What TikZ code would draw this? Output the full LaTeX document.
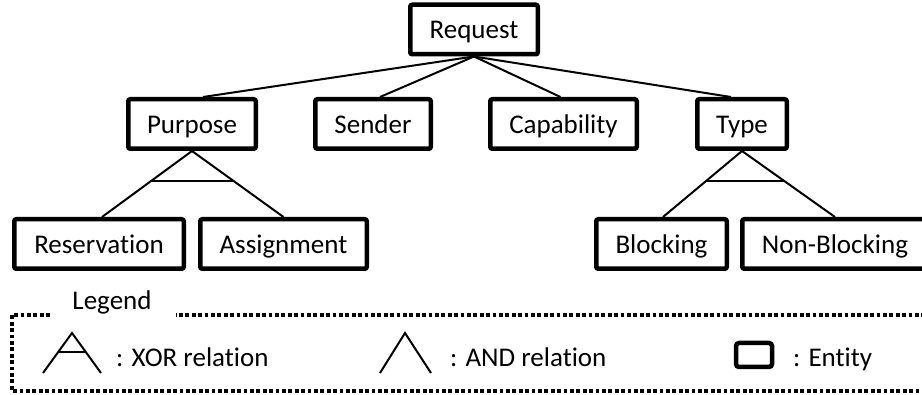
\documentclass[tikz,border=0pt]{standalone}
\usepackage{fontspec}
\setmainfont[Ligatures={NoCommon}]{Carlito}
\usetikzlibrary{calc}
\tikzset{
  entity/.style={draw, line width=4.5pt, rounded corners=2pt, minimum height=49.5pt, inner sep=0pt, text height=21pt, text depth=2pt, font=\fontsize{27}{31}\selectfont},
  conn/.style={line width=2pt},
  thin bar/.style={line width=2pt},
  legendline/.style={line width=4.5pt, dash pattern=on 3.8pt off 2.6pt},
  lbl/.style={font=\fontsize{27}{31}\selectfont, inner sep=0pt, text height=21pt, text depth=2pt}
}
\begin{document}
\begin{tikzpicture}[x=1pt,y=-1pt]
\path[use as bounding box, clip] (0,0) rectangle (922,395);
% entities
\node[entity, minimum width=127.5pt] (req) at (474,29.5) {Request};
\node[entity, minimum width=127.5pt] (pur) at (192,124) {Purpose};
\node[entity, minimum width=115.5pt] (sen) at (373,124) {Sender};
\node[entity, minimum width=146.5pt] (cap) at (563.5,124) {Capability};
\node[entity, minimum width=89.5pt] (typ) at (742,124) {Type};
\node[entity, minimum width=169.5pt] (res) at (99,244) {Reservation};
\node[entity, minimum width=166.5pt] (asg) at (283.5,244) {Assignment};
\node[entity, minimum width=130.5pt] (blk) at (661.5,244) {Blocking};
\node[entity, minimum width=185.5pt] (nbl) at (835,244) {Non-Blocking};
% connectors from Request
\draw[conn] (req.south) -- ([xshift=11pt]pur.north);
\draw[conn] (req.south) -- ([xshift=7pt]sen.north);
\draw[conn] (req.south) -- ([xshift=-3pt]cap.north);
\draw[conn] (req.south) -- ([xshift=-11pt]typ.north);
% XOR under Purpose
\coordinate (pl) at ([xshift=3pt]res.north);
\draw[conn] (pl) -- (pur.south) -- (asg.north);
\draw[thin bar] ($(pur.south)!0.45!(pl)$) -- ($(pur.south)!0.45!(asg.north)$);
% XOR under Type
\coordinate (tl) at ([xshift=1.5pt]blk.north);
\draw[conn] (tl) -- (typ.south) -- (nbl.north);
\draw[thin bar] ($(typ.south)!0.45!(tl)$) -- ($(typ.south)!0.45!(nbl.north)$);
% legend
\node[lbl] (leg) at (112,300.5) {Legend};
\coordinate (g1) at (50,315);
\coordinate (g2) at (12,315);
\coordinate (g3) at (12,391);
\coordinate (g4) at (940,391);
\coordinate (g5) at (940,315);
\coordinate (g6) at (176,315);
\draw[legendline] (g1) -- (g2) -- (g3) -- (g4) -- (g5) -- (g6);
% XOR icon
\coordinate (xa) at (72,333);
\coordinate (xl) at (43,373);
\coordinate (xr) at (101,373);
\draw[conn] (xl) -- (xa) -- (xr);
\draw[thin bar] ($(xa)!0.475!(xl)$) -- ($(xa)!0.475!(xr)$);
\node[lbl, anchor=west] (xt) at (116,357) {: XOR relation};
% AND icon
\coordinate (aa) at (405,333);
\coordinate (al) at (380,373);
\coordinate (ar) at (431,373);
\draw[conn] (al) -- (aa) -- (ar);
\node[lbl, anchor=west] (at) at (450,357) {: AND relation};
% Entity icon
\node[draw, line width=4.5pt, rounded corners=3pt, minimum width=36pt, minimum height=24pt, inner sep=0pt] (ei) at (754,355) {};
\node[lbl, anchor=west] (et) at (793,357) {: Entity};
\end{tikzpicture}
\end{document}
